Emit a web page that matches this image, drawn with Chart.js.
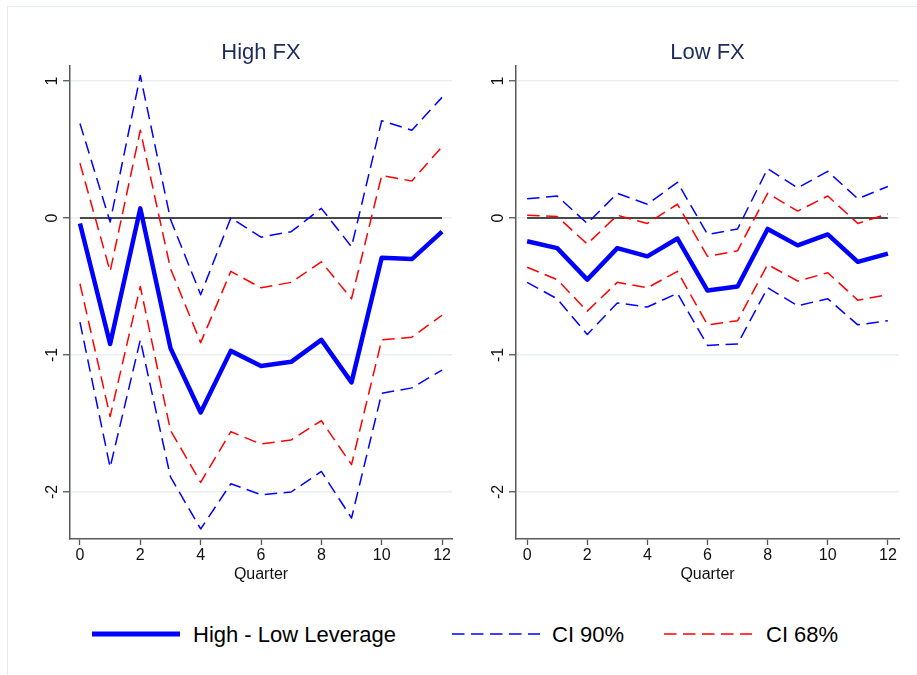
<!DOCTYPE html>
<html>
<head>
<meta charset="utf-8">
<script src="https://cdn.jsdelivr.net/npm/chart.js@4.4.1/dist/chart.umd.min.js"></script>
<style>
  html, body { margin: 0; padding: 0; background: #fff; }
  body { width: 917px; height: 675px; position: relative; overflow: hidden;
         font-family: "Liberation Sans", Arial, Helvetica, sans-serif; }
  #frame { position: absolute; left: 7px; top: 6px; width: 940px; height: 700px;
           border-left: 1.5px solid #e6edef; border-top: 1.5px solid #e6edef; box-sizing: border-box; }
  canvas { position: absolute; top: 0; }
  #cHigh { left: 0; }
  #cLow { left: 460px; }
  #legend { position: absolute; left: 0; top: 600px; }
</style>
</head>
<body>
<div id="frame"></div>
<canvas id="cHigh" width="460" height="600"></canvas>
<canvas id="cLow" width="457" height="600"></canvas>
<svg id="legend" width="917" height="75" xmlns="http://www.w3.org/2000/svg"
     font-family="Liberation Sans, Arial, Helvetica, sans-serif" font-size="22" fill="#000">
  <line x1="92" y1="34" x2="180" y2="34" stroke="#0000ff" stroke-width="5"/>
  <text x="193" y="42">High - Low Leverage</text>
  <line x1="452" y1="34" x2="540" y2="34" stroke="#0000ff" stroke-width="1.5" stroke-dasharray="12.5 6.5"/>
  <text x="552" y="42">CI 90%</text>
  <line x1="664" y1="34" x2="752" y2="34" stroke="#ff0000" stroke-width="1.5" stroke-dasharray="12.5 6.5"/>
  <text x="766" y="42">CI 68%</text>
</svg>

<script>
// Horizon in quarters after the shock
const quarters = [0, 1, 2, 3, 4, 5, 6, 7, 8, 9, 10, 11, 12];
const xTickValues = [0, 2, 4, 6, 8, 10, 12];
const yTickValues = [-2, -1, 0, 1];
const refLevel = 0;

// High FX panel: difference between high- and low-leverage responses
const highDiff   = [-0.04, -0.92, 0.07, -0.95, -1.42, -0.97, -1.08, -1.05, -0.89, -1.20, -0.29, -0.30, -0.10];
const highCi90Up = [0.69, -0.03, 1.04, -0.01, -0.56, 0.00, -0.14, -0.10, 0.07, -0.21, 0.71, 0.64, 0.88];
const highCi90Lo = [-0.76, -1.82, -0.89, -1.89, -2.27, -1.94, -2.02, -2.00, -1.85, -2.19, -1.28, -1.24, -1.11];
const highCi68Up = [0.40, -0.39, 0.64, -0.37, -0.91, -0.39, -0.51, -0.47, -0.32, -0.59, 0.31, 0.27, 0.52];
const highCi68Lo = [-0.48, -1.45, -0.50, -1.55, -1.93, -1.56, -1.65, -1.62, -1.48, -1.80, -0.89, -0.87, -0.71];

// Low FX panel
const lowDiff   = [-0.17, -0.22, -0.45, -0.22, -0.28, -0.15, -0.53, -0.50, -0.08, -0.20, -0.12, -0.32, -0.26];
const lowCi90Up = [0.14, 0.16, -0.04, 0.18, 0.10, 0.26, -0.12, -0.08, 0.36, 0.22, 0.34, 0.14, 0.23];
const lowCi90Lo = [-0.47, -0.59, -0.85, -0.62, -0.65, -0.55, -0.93, -0.92, -0.51, -0.64, -0.59, -0.78, -0.75];
const lowCi68Up = [0.02, 0.01, -0.19, 0.02, -0.04, 0.10, -0.28, -0.24, 0.18, 0.05, 0.16, -0.04, 0.03];
const lowCi68Lo = [-0.36, -0.45, -0.68, -0.47, -0.51, -0.39, -0.78, -0.75, -0.34, -0.46, -0.40, -0.60, -0.56];

const BLUE = '#0000ff';
const RED = '#ff0000';
const DASH = [12.5, 6.5];
const FONT = '"Liberation Sans", Arial, Helvetica, sans-serif';

const toPoints = vals => quarters.map((q, i) => ({ x: q, y: vals[i] }));

function lineSet(vals, color, width, dash) {
  return {
    data: toPoints(vals),
    borderColor: color,
    borderWidth: width,
    borderDash: dash || [],
    borderJoinStyle: 'round',
    pointRadius: 0,
    tension: 0,
    fill: false
  };
}

// Zero reference line, panel title and vertical y tick labels
const panelDecor = {
  id: 'panelDecor',
  beforeDatasetsDraw(chart, args, opts) {
    const { ctx, scales: { x, y } } = chart;
    ctx.save();
    ctx.strokeStyle = '#111';
    ctx.lineWidth = 1.4;
    ctx.beginPath();
    ctx.moveTo(x.getPixelForValue(quarters[0]), y.getPixelForValue(refLevel));
    ctx.lineTo(x.getPixelForValue(quarters[quarters.length - 1]), y.getPixelForValue(refLevel));
    ctx.stroke();
    ctx.restore();
  },
  afterDraw(chart, args, opts) {
    const { ctx, chartArea, scales: { y } } = chart;
    ctx.save();
    ctx.fillStyle = '#1c2b58';
    ctx.font = '22px ' + FONT;
    ctx.textAlign = 'center';
    ctx.textBaseline = 'alphabetic';
    ctx.fillText(opts.title, (chartArea.left + chartArea.right) / 2, 59);

    ctx.fillStyle = '#111';
    ctx.font = '16px ' + FONT;
    yTickValues.forEach(v => {
      const py = y.getPixelForValue(v);
      ctx.save();
      ctx.translate(chartArea.left - 13, py);
      ctx.rotate(-Math.PI / 2);
      ctx.textAlign = 'center';
      ctx.textBaseline = 'alphabetic';
      ctx.fillText(String(v), 0, 0);
      ctx.restore();
    });
    ctx.restore();
  }
};

function makePanel(canvasId, title, yWidth, padRight, xRange, series) {
  return new Chart(document.getElementById(canvasId), {
    type: 'line',
    data: {
      datasets: [
        lineSet(series.diff, BLUE, 4.5),
        lineSet(series.ci68Up, RED, 1.5, DASH),
        lineSet(series.ci68Lo, RED, 1.5, DASH),
        lineSet(series.ci90Up, BLUE, 1.5, DASH),
        lineSet(series.ci90Lo, BLUE, 1.5, DASH)
      ]
    },
    options: {
      responsive: false,
      animation: false,
      layout: { padding: { top: 66, right: padRight, left: 0, bottom: 0 } },
      plugins: {
        legend: { display: false },
        tooltip: { enabled: false },
        title: { display: false },
        panelDecor: { title: title }
      },
      scales: {
        x: {
          type: 'linear',
          min: xRange[0],
          max: xRange[1],
          afterBuildTicks: s => { s.ticks = xTickValues.map(v => ({ value: v })); },
          afterFit: s => { s.height = 61; },
          ticks: {
            autoSkip: false, maxRotation: 0, minRotation: 0,
            padding: 1,
            color: '#111',
            font: { family: FONT, size: 16 },
            callback: v => String(v)
          },
          grid: {
            drawOnChartArea: false, drawTicks: true,
            tickLength: 6, tickColor: '#555', tickWidth: 1.3
          },
          border: { display: true, color: '#5a5a5a', width: 1.5 },
          title: {
            display: true, text: 'Quarter', color: '#111',
            font: { family: FONT, size: 16 },
            padding: { top: 0, bottom: 15.5 }
          }
        },
        y: {
          type: 'linear',
          min: -2.343,
          max: 1.109,
          afterBuildTicks: s => { s.ticks = yTickValues.map(v => ({ value: v })); },
          afterFit: s => { s.width = yWidth; },
          ticks: { display: false },
          grid: {
            drawOnChartArea: true, drawTicks: true,
            color: '#e8eff1', lineWidth: 1.5,
            tickLength: 7, tickColor: '#555', tickWidth: 1.3
          },
          border: { display: true, color: '#5a5a5a', width: 1.5 }
        }
      }
    },
    plugins: [panelDecor]
  });
}

makePanel('cHigh', 'High FX', 70, 8, [-0.33, 12.33], {
  diff: highDiff, ci90Up: highCi90Up, ci90Lo: highCi90Lo, ci68Up: highCi68Up, ci68Lo: highCi68Lo
});

makePanel('cLow', 'Low FX', 56, 18, [-0.37, 12.37], {
  diff: lowDiff, ci90Up: lowCi90Up, ci90Lo: lowCi90Lo, ci68Up: lowCi68Up, ci68Lo: lowCi68Lo
});
</script>
</body>
</html>
